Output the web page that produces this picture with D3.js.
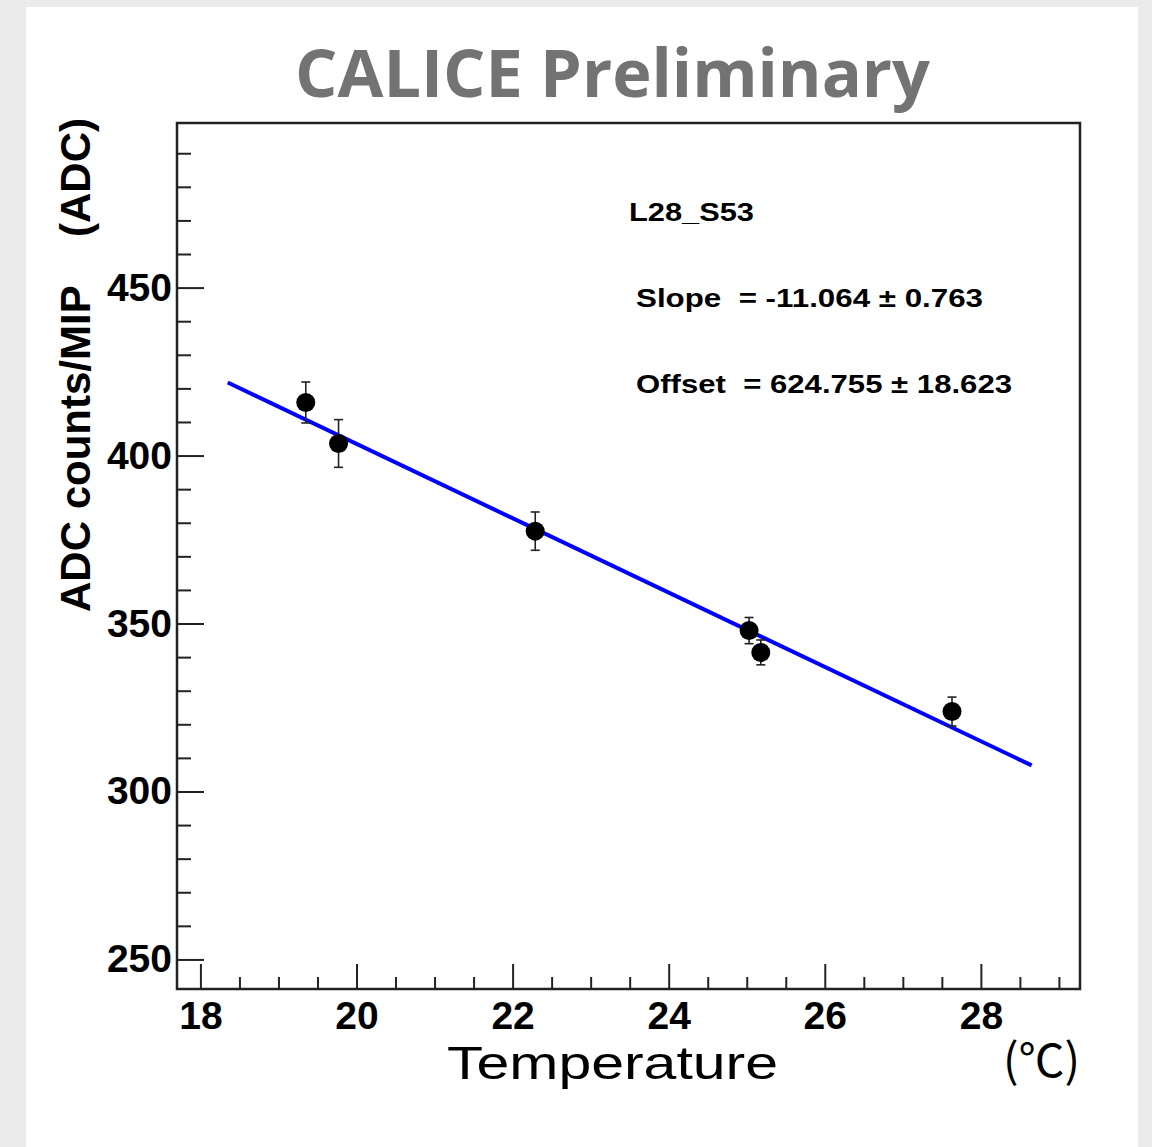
<!DOCTYPE html>
<html>
<head>
<meta charset="utf-8">
<script src="https://cdn.jsdelivr.net/npm/d3@7"></script>
<style>
  body { margin: 0; background: #ebebeb; }
  svg { display: block; }
</style>
</head>
<body>
<script>
// ADC counts/MIP vs temperature, channel L28_S53, with linear fit

var temps  = [19.35, 19.77, 22.29, 25.03, 25.18, 27.63];
var adc    = [415.8, 403.6, 377.5, 347.9, 341.4, 323.8];
var adcErr = [6.1, 7.1, 5.7, 3.9, 3.7, 4.3];

var fitSlope = -11.064, fitOffset = 624.755;
var fitRange = [18.35, 28.65];

var xMajor = [18, 20, 22, 24, 26, 28];
var xMinor = [18.5, 19, 19.5, 20.5, 21, 21.5, 22.5, 23, 23.5, 24.5, 25, 25.5, 26.5, 27, 27.5, 28.5, 29];
var yMajor = [250, 300, 350, 400, 450];
var yMinor = [260, 270, 280, 290, 310, 320, 330, 340, 360, 370, 380, 390, 410, 420, 430, 440, 460, 470, 480, 490];

var labels = ["L28_S53", "Slope  = -11.064 \u00b1 0.763", "Offset  = 624.755 \u00b1 18.623"];

var W = 1152, H = 1147;
var margin = {top: 123, left: 177, right: 72, bottom: 158},
    width = W - margin.left - margin.right,
    height = H - margin.top - margin.bottom;

var svg = d3.select("body").append("svg")
    .attr("width", W)
    .attr("height", H);

// white card over the grey page
svg.append("rect")
    .attr("x", 26).attr("y", 7)
    .attr("width", 1112).attr("height", H)
    .attr("fill", "#fff");

var g = svg.append("g")
    .attr("transform", "translate(" + margin.left + "," + margin.top + ")");

var x = d3.scaleLinear().domain([17.7, 29.27]).range([0, width]);
var y = d3.scaleLinear().domain([241.2, 499]).range([height, 0]);

var tickFont = "'Liberation Sans', Arial, Helvetica, sans-serif";

// x axis, major + minor
var xa = g.append("g")
    .attr("transform", "translate(0," + height + ")")
    .call(d3.axisBottom(x).tickValues(xMajor).tickSize(-25).tickPadding(12).tickFormat(d3.format("d")));
g.append("g")
    .attr("transform", "translate(0," + height + ")")
    .call(d3.axisBottom(x).tickValues(xMinor).tickSize(-12).tickFormat(""))
    .call(function(s){ s.select(".domain").remove(); });

// y axis, major + minor
var ya = g.append("g")
    .call(d3.axisLeft(y).tickValues(yMajor).tickSize(-27).tickPadding(5).tickFormat(d3.format("d")));
g.append("g")
    .call(d3.axisLeft(y).tickValues(yMinor).tickSize(-14).tickFormat(""))
    .call(function(s){ s.select(".domain").remove(); });

g.selectAll(".tick line").attr("stroke", "#222").attr("stroke-width", 2);
g.selectAll(".domain").remove();
[xa, ya].forEach(function(a){
    a.selectAll("text")
        .attr("fill", "#000")
        .style("font-family", tickFont)
        .style("font-weight", "bold")
        .style("font-size", "39px");
});

// frame
g.append("rect")
    .attr("width", width).attr("height", height)
    .attr("fill", "none")
    .attr("stroke", "#222")
    .attr("stroke-width", 2.5);

// fit line
g.append("line")
    .attr("x1", x(fitRange[0])).attr("y1", y(fitOffset + fitSlope * fitRange[0]))
    .attr("x2", x(fitRange[1])).attr("y2", y(fitOffset + fitSlope * fitRange[1]))
    .attr("stroke", "#0000ff")
    .attr("stroke-width", 4);

// error bars
var pts = temps.map(function(t, i){ return {t: t, v: adc[i], e: adcErr[i]}; });

var eb = g.selectAll(".err").data(pts).enter().append("g").attr("class", "err");
eb.append("line")
    .attr("x1", function(d){ return x(d.t); }).attr("x2", function(d){ return x(d.t); })
    .attr("y1", function(d){ return y(d.v + d.e); }).attr("y2", function(d){ return y(d.v - d.e); })
    .attr("stroke", "#222").attr("stroke-width", 1.6);
[1, -1].forEach(function(sgn){
    eb.append("line")
        .attr("x1", function(d){ return x(d.t) - 4.5; }).attr("x2", function(d){ return x(d.t) + 4.5; })
        .attr("y1", function(d){ return y(d.v + sgn * d.e); }).attr("y2", function(d){ return y(d.v + sgn * d.e); })
        .attr("stroke", "#222").attr("stroke-width", 1.6);
});

g.selectAll(".dot").data(pts).enter().append("circle")
    .attr("class", "dot")
    .attr("cx", function(d){ return x(d.t); })
    .attr("cy", function(d){ return y(d.v); })
    .attr("r", 9.5)
    .attr("fill", "#000");

// fit annotation
var annX = [629, 636, 636], annY = [221, 307, 393], annW = [125, 347, 376];
labels.forEach(function(txt, i){
    svg.append("text")
        .attr("x", annX[i]).attr("y", annY[i])
        .attr("textLength", annW[i])
        .attr("lengthAdjust", "spacingAndGlyphs")
        .style("font-family", tickFont)
        .style("font-weight", "bold")
        .style("font-size", "26px")
        .style("white-space", "pre")
        .text(txt);
});

// title
svg.append("text")
    .attr("x", 295).attr("y", 97)
    .attr("textLength", 635)
    .attr("lengthAdjust", "spacingAndGlyphs")
    .attr("fill", "#737373")
    .style("font-family", "'Open Sans', 'DejaVu Sans', sans-serif")
    .style("font-weight", "bold")
    .style("font-size", "67px")
    .text("CALICE Preliminary");

// x title
svg.append("text")
    .attr("x", 447).attr("y", 1079)
    .attr("textLength", 331)
    .attr("lengthAdjust", "spacingAndGlyphs")
    .style("font-family", tickFont)
    .style("font-size", "46px")
    .text("Temperature");
svg.append("text")
    .attr("x", 1080).attr("y", 1077)
    .attr("text-anchor", "end")
    .style("font-family", "'Noto Sans CJK JP', 'Noto Sans', sans-serif")
    .style("font-size", "46px")
    .text("(\u2103)");

// y title
svg.append("text")
    .attr("transform", "rotate(-90)")
    .attr("x", -612).attr("y", 90)
    .style("font-family", tickFont)
    .style("font-weight", "bold")
    .style("font-size", "42px")
    .text("ADC counts/MIP");
svg.append("text")
    .attr("transform", "rotate(-90)")
    .attr("x", -118).attr("y", 90)
    .attr("text-anchor", "end")
    .style("font-family", tickFont)
    .style("font-weight", "bold")
    .style("font-size", "42px")
    .text("(ADC)");
</script>
</body>
</html>
